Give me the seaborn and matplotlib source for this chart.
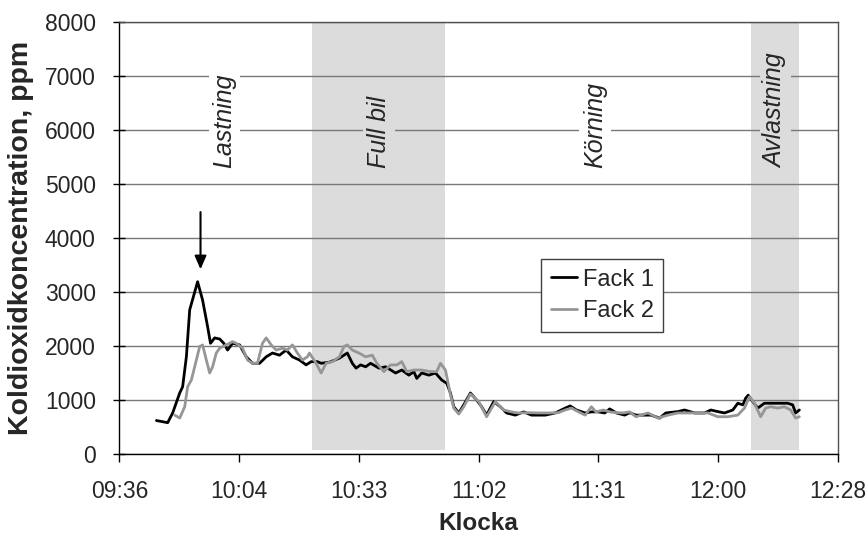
import matplotlib
matplotlib.use("Agg")
import matplotlib.pyplot as plt
import seaborn as sns
import pandas as pd

# Time is given in minutes after 09:36
START_MIN = 9 * 60 + 36

fack1_t = [8.9, 11.6, 12.8, 14.5, 15.2, 16.1, 16.9, 18.8, 20.0, 21.2, 21.9, 22.9,
           24.1, 25.1, 26.0, 27.2, 28.9, 30.5, 32.0, 33.7, 35.3, 36.8, 38.5, 40.1,
           41.6, 43.3, 44.9, 46.1, 47.6, 48.5, 50.5, 52.9, 54.8, 56.0, 56.9, 58.0,
           59.2, 60.4, 62.4, 64.0, 66.4, 67.9, 69.6, 70.8, 71.5, 72.7, 74.4, 76.0,
           77.5, 78.7, 79.6, 80.4, 81.6, 82.8, 84.4, 85.9, 87.1, 88.3, 90.0, 91.6,
           93.1, 95.2, 97.2, 99.1, 102.4, 104.8, 107.2, 108.4, 109.9, 112.0, 113.5,
           115.1, 116.7, 117.9, 119.5, 121.5, 122.7, 124.2, 127.8, 129.9, 131.4,
           134.3, 135.9, 138.3, 140.7, 142.2, 143.9, 145.5, 147.5, 148.7, 149.9,
           150.6, 151.2, 152.3, 153.5, 155.1, 156.6, 158.3, 160.7, 161.9, 162.6, 163.5]
fack1_ppm = [620, 580, 760, 1130, 1245, 1800, 2670, 3190, 2850, 2360, 2050, 2150,
             2130, 2050, 1925, 2050, 2020, 1800, 1680, 1680, 1800, 1870, 1830, 1925,
             1800, 1740, 1650, 1710, 1710, 1680, 1700, 1775, 1870, 1680, 1590, 1650,
             1615, 1680, 1590, 1615, 1500, 1555, 1460, 1525, 1400, 1500, 1460, 1500,
             1370, 1310, 1130, 875, 760, 910, 1130, 1000, 875, 720, 970, 875,
             760, 720, 780, 720, 720, 760, 850, 890, 815, 760, 780,
             780, 760, 835, 760, 720, 765, 720, 720, 665, 760,
             785, 815, 760, 760, 815, 785, 760, 815, 940, 910,
             1035, 1090, 970, 850, 940, 940, 940, 940, 910, 760, 815]

fack2_t = [13.3, 14.5, 15.7, 16.4, 17.3, 18.1, 19.3, 20.0, 20.9, 21.7, 22.4, 23.3,
           24.1, 25.7, 27.2, 28.1, 29.6, 30.8, 32.0, 33.2, 34.4, 35.3, 36.5, 37.7,
           39.2, 40.4, 41.6, 42.8, 44.0, 45.2, 45.7, 47.3, 48.5, 49.7, 51.2, 52.9,
           54.0, 54.8, 56.0, 57.6, 59.2, 60.8, 61.9, 63.6, 65.2, 66.7, 67.9, 69.1,
           70.8, 72.7, 74.8, 76.3, 77.2, 78.4, 79.6, 80.4, 81.6, 82.8, 84.4, 86.4,
           88.3, 90.4, 92.4, 94.3, 96.0, 98.4, 100.8, 103.2, 105.5, 107.2, 108.7,
           110.4, 112.0, 113.5, 114.6, 116.4, 117.9, 119.5, 121.1, 122.7, 124.2,
           127.1, 129.5, 131.9, 134.3, 136.7, 139.1, 141.5, 143.9, 146.3, 148.7,
           150.3, 151.5, 152.7, 154.2, 155.4, 156.6, 158.3, 159.9, 161.4, 162.6, 163.5]
fack2_ppm = [720, 665, 875, 1245, 1370, 1615, 1990, 2020, 1740, 1500, 1615, 1870,
             1960, 2020, 2080, 2050, 1960, 1740, 1680, 1680, 2050, 2150, 2020, 1925,
             1960, 1925, 2020, 1870, 1740, 1800, 1870, 1680, 1500, 1680, 1710, 1800,
             1990, 2020, 1925, 1870, 1800, 1830, 1680, 1525, 1650, 1650, 1710, 1525,
             1555, 1555, 1525, 1525, 1680, 1555, 1100, 850, 740, 875, 1110, 970,
             690, 970, 815, 780, 760, 765, 760, 760, 765, 815, 850,
             780, 720, 875, 780, 815, 780, 765, 760, 780, 690,
             760, 665, 720, 760, 760, 760, 760, 690, 690, 720,
             850, 1060, 940, 690, 850, 875, 850, 875, 815, 665, 690]

series_names = ["Fack 1", "Fack 2"]
series_colors = ["#000000", "#969696"]

tick_labels = ["09:36", "10:04", "10:33", "11:02", "11:31", "12:00", "12:28"]
tick_step = 28.8  # minutes

# Phases of the trip (start, end in minutes after 09:36) and their labels
shaded_phases = [(46.4, 78.2), (151.8, 163.5)]
phase_labels = ["Lastning", "Full bil", "Körning", "Avlastning"]
phase_label_t = [25.3, 62.4, 114.4, 157.8]
phase_label_shaded = [False, True, False, True]

peak_arrow_t = 19.5
peak_arrow_from, peak_arrow_to = 4480, 3420

SHADE = "#dcdcdc"

sns.set_style("white")
plt.rcParams["font.family"] = ["Liberation Sans", "DejaVu Sans"]

df = pd.concat([
    pd.DataFrame({"t": [START_MIN + v for v in fack1_t], "ppm": fack1_ppm, "serie": series_names[0]}),
    pd.DataFrame({"t": [START_MIN + v for v in fack2_t], "ppm": fack2_ppm, "serie": series_names[1]}),
], ignore_index=True)

fig = plt.figure(figsize=(8.66, 5.39), dpi=100)
ax = fig.add_axes([0.1379, 0.1577, 0.8298, 0.8015])

for a, b in shaded_phases:
    ax.axvspan(START_MIN + a, START_MIN + b, ymin=0.009, ymax=1.0, color=SHADE, lw=0, zorder=0)

sns.lineplot(data=df, x="t", y="ppm", hue="serie", palette=series_colors,
             linewidth=2.0, ax=ax, legend=True, estimator=None, sort=False, zorder=2)

ax.set_xlim(START_MIN, START_MIN + tick_step * 6)
ax.set_ylim(0, 8000)
ax.set_xticks([START_MIN + tick_step * i for i in range(len(tick_labels))])
ax.set_xticklabels(tick_labels)
ax.set_yticks(range(0, 8001, 1000))

ax.set_axisbelow(True)
ax.yaxis.grid(True, color="#787878", linewidth=1.0, zorder=0.5)
ax.xaxis.grid(False)

for side in ["left", "bottom"]:
    ax.spines[side].set_color("#000000")
    ax.spines[side].set_linewidth(1.0)
for side in ["top", "right"]:
    ax.spines[side].set_color("#505050")
    ax.spines[side].set_linewidth(1.0)

ax.tick_params(axis="x", direction="out", length=6, width=1, color="#000000",
               labelsize=16.5, pad=13)
ax.tick_params(axis="y", direction="inout", length=8, width=1, color="#000000",
               labelsize=16.5, pad=13)
ax.tick_params(left=True, bottom=True)

ax.set_xlabel("Klocka", fontsize=17.5, fontweight="bold")
ax.set_ylabel("Koldioxidkoncentration, ppm", fontsize=20.5, fontweight="bold")
ax.xaxis.set_label_coords(0.5, -0.162)
ax.yaxis.set_label_coords(-0.1365, 0.5)
ax.xaxis.label.set_va("center")
ax.yaxis.label.set_va("center")

for label, t, shaded in zip(phase_labels, phase_label_t, phase_label_shaded):
    ax.text(START_MIN + t, 5300, label, rotation=90, ha="center", va="bottom",
            fontsize=18, fontstyle="italic", zorder=3,
            bbox=dict(boxstyle="square,pad=0.15", fc=SHADE if shaded else "white", ec="none"))

ax.annotate("", xy=(START_MIN + peak_arrow_t, peak_arrow_to),
            xytext=(START_MIN + peak_arrow_t, peak_arrow_from),
            arrowprops=dict(arrowstyle="-|>,head_width=0.35,head_length=0.8",
                            color="black", lw=1.5, shrinkA=0, shrinkB=0))

handles, labels = ax.get_legend_handles_labels()
leg = ax.legend(handles, labels, loc="upper left", bbox_to_anchor=(0.625, 0.519),
                bbox_transform=fig.transFigure, fontsize=17, frameon=True,
                fancybox=False, framealpha=1, edgecolor="#404040",
                handlelength=1.1, handletextpad=0.25, borderpad=0.4,
                labelspacing=0.4, borderaxespad=0)
leg.get_frame().set_linewidth(1.0)
for line in leg.get_lines():
    line.set_linewidth(2.0)

fig.savefig("out.png", dpi=100)
